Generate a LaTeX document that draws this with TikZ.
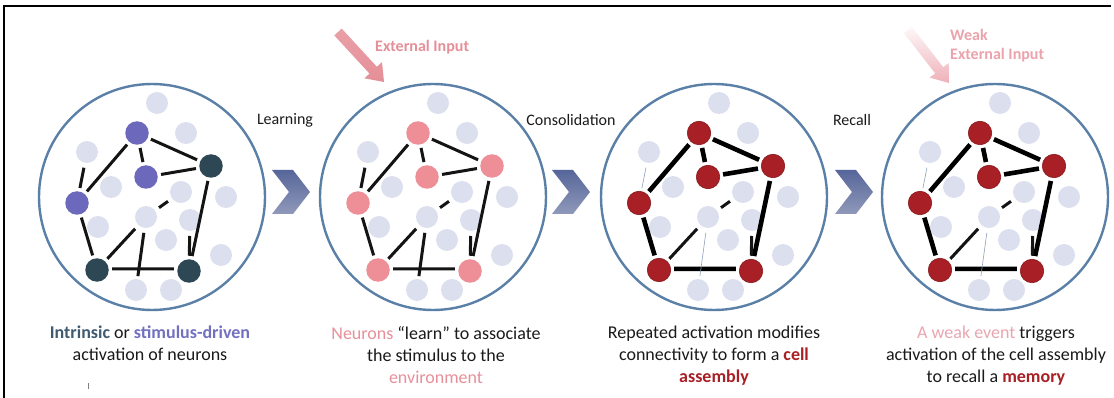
\documentclass[tikz,border=0pt]{standalone}
\usepackage{fontspec}
\setmainfont{Carlito}
\usetikzlibrary{calc}

\definecolor{ringblue}{HTML}{5B80A8}
\definecolor{idlefill}{HTML}{DCE0EE}
\definecolor{purp}{HTML}{6C68BC}
\definecolor{slate}{HTML}{2E4754}
\definecolor{pinkcol}{HTML}{EE8E96}
\definecolor{dred}{HTML}{A81F25}
\definecolor{faintblue}{HTML}{8FA0BC}
\definecolor{capslate}{HTML}{3F5B72}
\definecolor{capstim}{HTML}{7270C0}
\definecolor{cappink}{HTML}{E8909A}
\definecolor{capweak}{HTML}{EAA6AF}
\definecolor{inpink}{HTML}{E58F98}
\definecolor{weakpink}{HTML}{EBA3AC}
\definecolor{chevtop}{HTML}{56669A}
\definecolor{chevbot}{HTML}{9099BA}
\definecolor{inktext}{HTML}{1A1A1A}

\tikzset{
  ring/.style={circle, draw=ringblue, line width=2.4pt, fill=white,
    minimum size=226pt, inner sep=0pt},
  idle/.style={circle, fill=idlefill, minimum size=22pt, inner sep=0pt, outer sep=5pt},
  cellbase/.style={circle, minimum size=23.5pt, inner sep=0pt, outer sep=3.5pt},
  purplecell/.style={cellbase, fill=purp},
  slatecell/.style={cellbase, fill=slate},
  pinkcell/.style={cellbase, fill=pinkcol},
  redcell/.style={cellbase, fill=dred, draw=dred!80!black, line width=0.6pt},
  syn/.style={line width=3pt, draw=black!92},
  synstrong/.style={line width=4.6pt, draw=black},
  synfaint/.style={line width=0.6pt, draw=faintblue},
  steplabel/.style={font=\fontsize{16}{19}\selectfont, text=inktext, inner sep=0pt},
  caption/.style={font=\fontsize{18}{22}\selectfont, text=inktext, align=center,
    anchor=north, inner sep=0pt},
  inputlabel/.style={font=\fontsize{16}{19}\selectfont\bfseries, inner sep=0pt,
    align=left, anchor=north west},
}

% One network: ring, idle neurons, six active neurons and their synapses.
% #1 prefix, #2 centre x, #3/#4 styles of the active neurons,
% #5 style of the assembly synapses, #6 style of the two weak side links
\newcommand\neuronpanel[6]{%
  \begin{scope}[shift={(#2,197)}]
    \node[ring] (#1ring) at (0,0) {};
    \node[idle] (#1l1)  at (5,-94) {};
    \node[idle] (#1l2)  at (34,-64) {};
    \node[idle] (#1l3)  at (-65,-45) {};
    \node[idle] (#1l4)  at (-41,-10) {};
    \node[idle] (#1l5)  at (29,-5) {};
    \node[idle] (#1l6)  at (74,0) {};
    \node[idle] (#1l7)  at (-6,20) {};
    \node[idle] (#1l8)  at (38,23) {};
    \node[idle] (#1l9)  at (-54,30) {};
    \node[idle] (#1l10) at (14,43) {};
    \node[idle] (#1l11) at (69,58) {};
    \node[idle] (#1l12) at (-16,93) {};
    \node[idle] (#1l13) at (19,93) {};
    \node[#3] (#1A) at (-15,-64) {};
    \node[#3] (#1B) at (-6,-20) {};
    \node[#3] (#1C) at (-75,6) {};
    \node[#4] (#1D) at (59,-31) {};
    \node[#4] (#1E) at (-55,73) {};
    \node[#4] (#1F) at (37,74) {};
    \draw[#5] (#1A) -- (#1D);
    \draw[#5] (#1A) -- (#1B);
    \draw[#5] (#1A) -- (#1C);
    \draw[#5] (#1B) -- (#1D);
    \draw[#5] (#1D) -- (#1F);
    \draw[#5] (#1C) -- (#1E);
    \draw[#5] (#1E.4) -- (#1F.172);
    \draw[#6] (#1l3) -- (#1C);
    \draw[#6, shorten >=-2pt] (#1l7) -- (#1l12);
    \draw[syn] (#1E) -- (#1l7);
    \draw[syn] (#1l7) -- (#1l5);
    \draw[syn] (#1l8) -- (#1F);
  \end{scope}}

% Stage chevron with its left edge at x = #1
\newcommand\stagechevron[1]{%
  \begin{scope}[shift={(#1,0)}]
    \shade[top color=chevtop, bottom color=chevbot]
      (0,170) -- (21,170) -- (38,192) -- (21,214) -- (0,214) -- (17,192) -- cycle;
  \end{scope}}

\begin{document}
\begin{tikzpicture}[x=1pt, y=-1pt]
  \useasboundingbox (0,0) rectangle (1114,398);
  \fill[white] (0,0) rectangle (1114,398);

  % frame
  \draw[line width=2.6pt, black] (4,398) -- (4,6) -- (1111,6);
  \draw[gray, line width=0.8pt] (88,383) -- (88,389);

  % the four stages
  \neuronpanel{p1}{152}{purplecell}{slatecell}{syn}{syn}
  \neuronpanel{p2}{433}{pinkcell}{pinkcell}{syn}{syn}
  \neuronpanel{p3}{714}{redcell}{redcell}{synstrong}{synfaint}
  \neuronpanel{p4}{995}{redcell}{redcell}{synstrong}{synfaint}

  % chevrons and step names
  \stagechevron{272}
  \stagechevron{552}
  \stagechevron{835}
  \node[steplabel] (learn) at (285,120) {Learning};
  \node[steplabel] (consol) at (571,120) {Consolidation};
  \node[steplabel] (recall) at (852,120) {Recall};

  % external input arrow
  \shade[top color=inpink!85, bottom color=inpink]
    (334.3,35.4) -- (341.7,28.6) -- (376.9,66.8) -- (382.0,62.1)
    -- (384,82) -- (364.4,78.3) -- (369.5,73.6) -- cycle;
  \node[inputlabel, text=inpink] (extin) at (375,40) {External Input};

  % weak external input arrow
  \shade[top color=weakpink!8, bottom color=weakpink!85]
    (904.0,33.1) -- (912.0,26.9) -- (943.2,67.2) -- (948.7,63.0)
    -- (949,83) -- (929.7,77.6) -- (935.2,73.4) -- cycle;
  \node[inputlabel, text=weakpink] (weakin) at (950,29) {Weak\\External Input};

  % captions
  \node[caption] (cap1) at (150,326)
    {{\color{capslate}\bfseries Intrinsic} or {\color{capstim}\bfseries stimulus-driven}\\
     activation of neurons};
  \node[caption] (cap2) at (436,326)
    {{\color{cappink}Neurons} “learn” to associate\\
     the stimulus to the\\
     {\color{cappink}environment}};
  \node[caption] (cap3) at (714,326)
    {Repeated activation modifies\\
     connectivity to form a {\color{dred}\bfseries cell}\\
     {\color{dred}\bfseries assembly}};
  \node[caption] (cap4) at (996,326)
    {{\color{capweak}A weak event} triggers\\
     activation of the cell assembly\\
     to recall a {\color{dred}\bfseries memory}};
\end{tikzpicture}
\end{document}
